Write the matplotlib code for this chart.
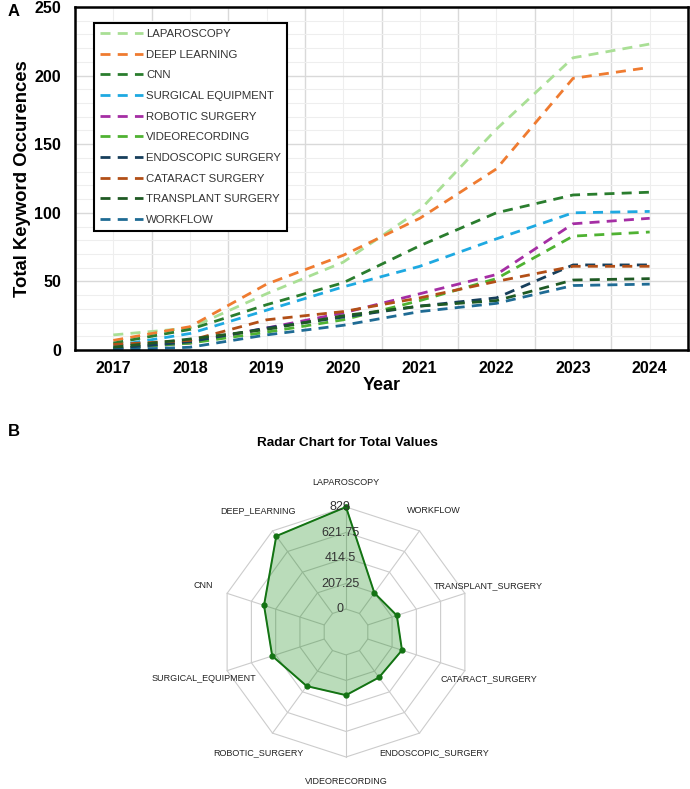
import matplotlib
matplotlib.use("Agg")
import matplotlib.pyplot as plt
import numpy as np
from matplotlib.ticker import MultipleLocator

plt.rcParams['font.family'] = ['Liberation Sans', 'DejaVu Sans']

# --- panel A data ---
years = ['2017', '2018', '2019', '2020', '2021', '2022', '2023', '2024']
laparoscopy = [11, 16, 41, 64, 102, 161, 213, 223]
deep_learning = [7, 17, 48, 69, 96, 132, 198, 206]
cnn = [5, 15, 33, 49, 76, 100, 113, 115]
surgical_equipment = [3, 12, 29, 46, 61, 81, 100, 101]
robotic_surgery = [1, 5, 16, 27, 41, 55, 92, 96]
videorecording = [1, 5, 13, 22, 36, 52, 83, 86]
endoscopic_surgery = [1, 6, 16, 24, 32, 38, 62, 62]
cataract_surgery = [4, 7, 22, 28, 38, 50, 61, 61]
transplant_surgery = [2, 8, 15, 25, 32, 36, 51, 52]
workflow = [0, 2, 11, 18, 28, 34, 47, 48]

series_names = ['LAPAROSCOPY', 'DEEP LEARNING', 'CNN', 'SURGICAL EQUIPMENT',
                'ROBOTIC SURGERY', 'VIDEORECORDING', 'ENDOSCOPIC SURGERY',
                'CATARACT SURGERY', 'TRANSPLANT SURGERY', 'WORKFLOW']
series_vals = [laparoscopy, deep_learning, cnn, surgical_equipment, robotic_surgery,
               videorecording, endoscopic_surgery, cataract_surgery,
               transplant_surgery, workflow]
series_cols = ['#a9df95', '#ef7b30', '#2a7d2e', '#1ea9e1', '#a52ea4',
               '#4fb232', '#173f5c', '#b24f17', '#1f5a24', '#1f6b94']

# --- panel B data ---
radar_cats = ['LAPAROSCOPY', 'WORKFLOW', 'TRANSPLANT_SURGERY', 'CATARACT_SURGERY',
              'ENDOSCOPIC_SURGERY', 'VIDEORECORDING', 'ROBOTIC_SURGERY',
              'SURGICAL_EQUIPMENT', 'CNN', 'DEEP_LEARNING']
radar_vals = [829, 206, 248, 292, 270, 327, 357, 444, 514, 777]
radar_ticks = [0, 207.25, 414.5, 621.75, 829]
radar_tick_labels = ['0', '207.25', '414.5', '621.75', '829']

fig = plt.figure(figsize=(6.9, 7.89), dpi=100)

# ---------------- panel A ----------------
ax = fig.add_axes([75/690, 1-350/789, 613/690, 343/789])
x = np.arange(len(years))
for name, vals, col in zip(series_names, series_vals, series_cols):
    ax.plot(x, vals, color=col, lw=2.0, ls=(0, (3.6, 2.6)), label=name)

ax.set_xlim(-0.5, len(years)-0.5)
ax.set_ylim(0, 250)
ax.set_xticks(x)
ax.set_xticklabels(years)
ax.set_xticks(np.arange(len(years)+1)-0.5, minor=True)
ax.yaxis.set_major_locator(MultipleLocator(50))
ax.yaxis.set_minor_locator(MultipleLocator(10))
ax.grid(which='major', axis='y', color='#d9d9d9', lw=1.0)
ax.grid(which='minor', axis='y', color='#eeeeee', lw=0.8)
ax.grid(which='minor', axis='x', color='#d9d9d9', lw=1.0)
ax.grid(which='major', axis='x', color='#eeeeee', lw=0.8)
ax.set_axisbelow(True)
ax.tick_params(which='both', length=0)
ax.tick_params(axis='y', pad=10)
ax.tick_params(axis='x', pad=8)
for lab in ax.get_xticklabels() + ax.get_yticklabels():
    lab.set_fontweight('bold')
    lab.set_fontsize(11.5)
for sp in ax.spines.values():
    sp.set_linewidth(1.8)
    sp.set_color('black')
ax.set_xlabel('Year', fontsize=13, fontweight='bold', labelpad=1)
ax.set_ylabel('Total Keyword Occurences', fontsize=13.3, fontweight='bold', labelpad=2)

leg = ax.legend(loc='upper left', bbox_to_anchor=(0.031, 0.953), fontsize=8.2,
                handlelength=3.8, handletextpad=0.3, labelspacing=0.94,
                borderpad=0.5, borderaxespad=0, fancybox=False, framealpha=1)
leg.get_frame().set_edgecolor('black')
leg.get_frame().set_linewidth(1.5)
for t in leg.get_texts():
    t.set_color('#333333')

fig.text(8/690, 1-12/789, 'A', fontsize=12, fontweight='bold', va='center')
fig.text(8/690, 1-432/789, 'B', fontsize=12, fontweight='bold', va='center')

# ---------------- panel B ----------------
rax = fig.add_axes([221/690, 1-757/789, 250/690, 250/789], projection='polar')
n = len(radar_cats)
angles = np.linspace(0, 2*np.pi, n, endpoint=False)
rax.set_theta_offset(np.pi/2)
rax.set_theta_direction(-1)
# inner ring ("0") sits a bit away from the centre, like the original
rax.set_ylim(-186, radar_ticks[-1])
rax.grid(False)
for sp in rax.spines.values():
    sp.set_visible(False)
rax.patch.set_visible(False)
rax.set_xticks([])
rax.set_yticks([])

ring_ang = np.append(angles, angles[0])
for t in radar_ticks:
    rax.plot(ring_ang, [t]*(n+1), color='#cccccc', lw=0.8, zorder=1, clip_on=False)
for a in angles:
    rax.plot([a, a], [0, radar_ticks[-1]], color='#cccccc', lw=0.8, zorder=1, clip_on=False)

vals_closed = radar_vals + radar_vals[:1]
rax.fill(ring_ang, vals_closed, color='green', alpha=0.27, zorder=2, clip_on=False)
rax.plot(ring_ang, vals_closed, color='#137313', lw=1.4, marker='o', ms=3.5,
         zorder=3, clip_on=False)

for t, lab in zip(radar_ticks, radar_tick_labels):
    rax.annotate(lab, (0, t), xytext=(-6, 0), textcoords='offset pixels',
                 ha='center', va='center', fontsize=9, color='#333333', zorder=4)

for a, lab in zip(angles, radar_cats):
    rax.text(a, 1030, lab, ha='center', va='center', fontsize=6.5, color='#222222')

fig.text(347/690, 1-443/789, 'Radar Chart for Total Values', ha='center', va='center',
         fontsize=9.7, fontweight='bold')

fig.savefig('out.png', dpi=100)
